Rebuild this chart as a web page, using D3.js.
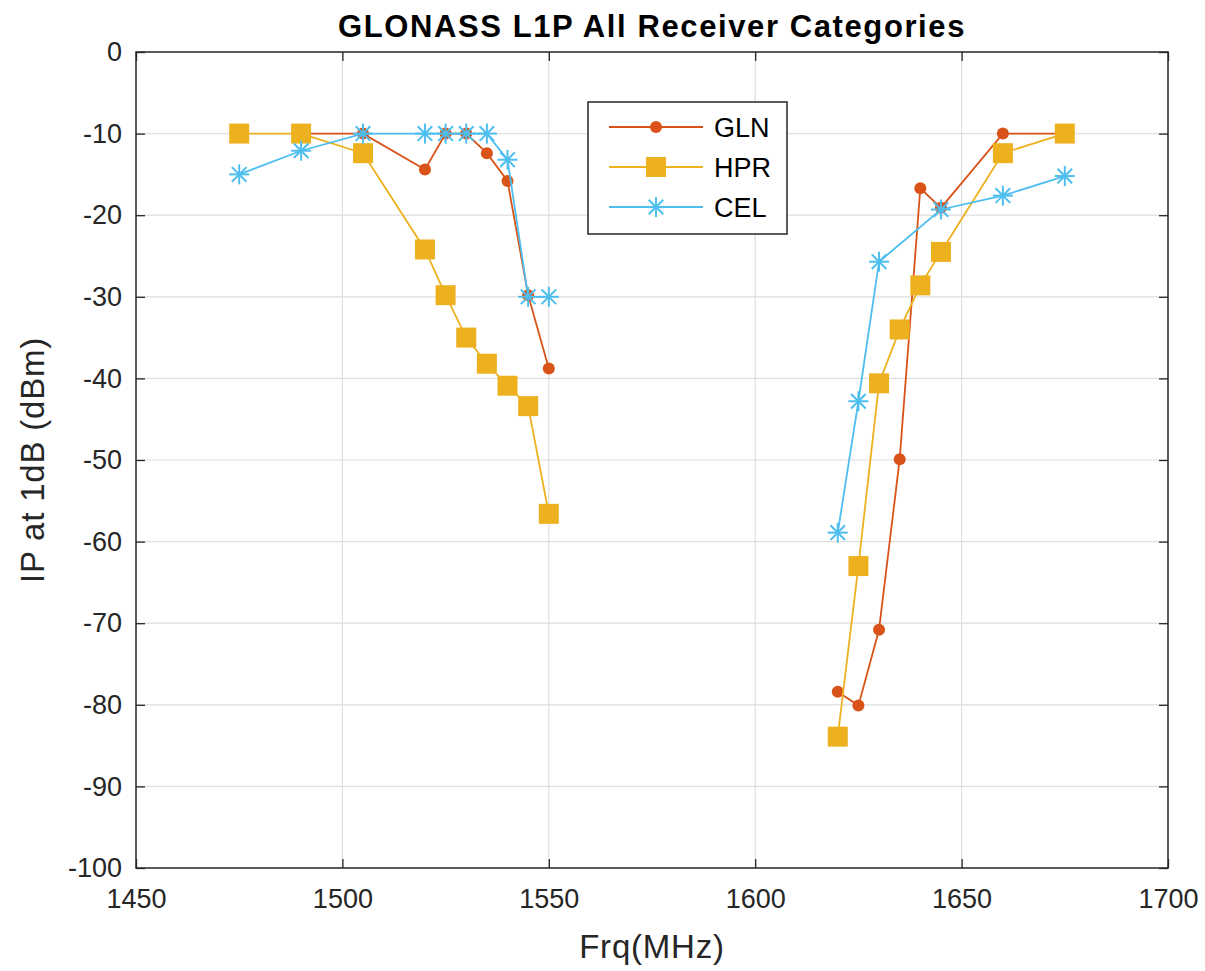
<!DOCTYPE html>
<html>
<head>
<meta charset="utf-8">
<script src="https://cdn.jsdelivr.net/npm/d3@7"></script>
<style>
  body { margin: 0; background: #fff; }
  text { font-family: "Liberation Sans", Arial, sans-serif; }
</style>
</head>
<body>
<div id="chart"></div>
<script>
// series values
const glnFreq = [1490, 1505, 1520, 1525, 1530, 1535, 1540, 1545, 1550, null, 1620, 1625, 1630, 1635, 1640, 1645, 1660, 1675];
const glnIP   = [-10, -10, -14.4, -10, -10, -12.4, -15.8, -29.8, -38.8, null, -78.4, -80.1, -70.8, -49.9, -16.7, -19.1, -10, -10];

const hprFreq = [1475, 1490, 1505, 1520, 1525, 1530, 1535, 1540, 1545, 1550, null, 1620, 1625, 1630, 1635, 1640, 1645, 1660, 1675];
const hprIP   = [-10, -10, -12.4, -24.2, -29.8, -35.0, -38.2, -40.9, -43.4, -56.6, null, -83.9, -63.0, -40.6, -34.0, -28.6, -24.5, -12.4, -10];

const celFreq = [1475, 1490, 1505, 1520, 1525, 1530, 1535, 1540, 1545, 1550, null, 1620, 1625, 1630, 1645, 1660, 1675];
const celIP   = [-15.0, -12.1, -10, -10, -10, -10, -10, -13.2, -30, -30, null, -58.9, -42.8, -25.7, -19.3, -17.6, -15.2];

const xTicks = [1450, 1500, 1550, 1600, 1650, 1700];
const yTicks = [0, -10, -20, -30, -40, -50, -60, -70, -80, -90, -100];

const seriesNames = ["GLN", "HPR", "CEL"];
const colors = ["#D95319", "#EDB120", "#4DBEEE"];

const W = 1205, H = 971;
const margin = { left: 136, right: 1205 - 1168, top: 52, bottom: 971 - 868 };

const svg = d3.select("#chart").append("svg")
	.attr("width", W)
	.attr("height", H);

const x = d3.scaleLinear().domain([1450, 1700]).range([margin.left, W - margin.right]);
const y = d3.scaleLinear().domain([-100, 0]).range([H - margin.bottom, margin.top]);

// grid
svg.append("g")
	.selectAll("line.gx")
	.data(xTicks.slice(1, -1))
	.enter().append("line")
	.attr("x1", d => x(d)).attr("x2", d => x(d))
	.attr("y1", y(0)).attr("y2", y(-100))
	.attr("stroke", "#dedede").attr("stroke-width", 1.2);
svg.append("g")
	.selectAll("line.gy")
	.data(yTicks.slice(1, -1))
	.enter().append("line")
	.attr("x1", x(1450)).attr("x2", x(1700))
	.attr("y1", d => y(d)).attr("y2", d => y(d))
	.attr("stroke", "#dedede").attr("stroke-width", 1.2);

// axes with inward ticks
const tk = 9;
const fmt = d => String(d);
function styleAxis(g) {
	g.select(".domain").remove();
	g.selectAll(".tick line").attr("stroke", "#262626").attr("stroke-width", 1.3);
	g.selectAll(".tick text").attr("fill", "#262626").style("font-size", "27px")
		.style("font-family", "'Liberation Sans', Arial, sans-serif");
}
svg.append("g")
	.attr("transform", `translate(0,${y(-100)})`)
	.call(d3.axisBottom(x).tickValues(xTicks).tickFormat(fmt).tickSizeInner(-tk).tickSizeOuter(0).tickPadding(21))
	.call(styleAxis);
svg.append("g")
	.attr("transform", `translate(0,${y(0)})`)
	.call(d3.axisTop(x).tickValues(xTicks).tickSizeInner(-tk).tickSizeOuter(0).tickFormat(""))
	.call(styleAxis);
svg.append("g")
	.attr("transform", `translate(${x(1450)},0)`)
	.call(d3.axisLeft(y).tickValues(yTicks).tickFormat(fmt).tickSizeInner(-tk).tickSizeOuter(0).tickPadding(14))
	.call(styleAxis);
svg.append("g")
	.attr("transform", `translate(${x(1700)},0)`)
	.call(d3.axisRight(y).tickValues(yTicks).tickSizeInner(-tk).tickSizeOuter(0).tickFormat(""))
	.call(styleAxis);

svg.append("rect")
	.attr("x", x(1450)).attr("y", y(0))
	.attr("width", x(1700) - x(1450)).attr("height", y(-100) - y(0))
	.attr("fill", "none").attr("stroke", "#262626").attr("stroke-width", 1.5);

// markers
function drawMarker(g, type, cx, cy, color) {
	if (type === 0) {
		g.append("circle").attr("cx", cx).attr("cy", cy).attr("r", 6).attr("fill", color);
	} else if (type === 1) {
		g.append("rect").attr("x", cx - 10).attr("y", cy - 10).attr("width", 20).attr("height", 20).attr("fill", color);
	} else {
		const r = 10, d = 7.3;
		[[-r, 0, r, 0], [0, -r, 0, r], [-d, -d, d, d], [-d, d, d, -d]].forEach(s => {
			g.append("line")
				.attr("x1", cx + s[0]).attr("y1", cy + s[1])
				.attr("x2", cx + s[2]).attr("y2", cy + s[3])
				.attr("stroke", color).attr("stroke-width", 2);
		});
	}
}

const allSeries = [[glnFreq, glnIP], [hprFreq, hprIP], [celFreq, celIP]];
const line = d3.line()
	.defined(d => d[0] !== null)
	.x(d => x(d[0]))
	.y(d => y(d[1]));

allSeries.forEach((s, i) => {
	const pts = s[0].map((f, j) => [f, s[1][j]]);
	const g = svg.append("g");
	g.append("path")
		.datum(pts)
		.attr("d", line)
		.attr("fill", "none")
		.attr("stroke", colors[i])
		.attr("stroke-width", 1.8);
	pts.filter(p => p[0] !== null).forEach(p => drawMarker(g, i, x(p[0]), y(p[1]), colors[i]));
});

// legend
const lg = svg.append("g");
lg.append("rect")
	.attr("x", 588).attr("y", 102).attr("width", 199).attr("height", 132)
	.attr("fill", "#fff").attr("stroke", "#262626").attr("stroke-width", 1.5);
seriesNames.forEach((name, i) => {
	const ly = 127 + i * 40;
	lg.append("line").attr("x1", 609).attr("x2", 703).attr("y1", ly).attr("y2", ly)
		.attr("stroke", colors[i]).attr("stroke-width", 1.8);
	drawMarker(lg, i, 656, ly, colors[i]);
	lg.append("text").attr("x", 714).attr("y", ly + 10).text(name)
		.style("font-size", "27px").attr("fill", "#000");
});

// labels
svg.append("text")
	.attr("x", (x(1450) + x(1700)) / 2).attr("y", 37)
	.attr("text-anchor", "middle")
	.style("font-size", "31px").style("font-weight", "bold")
	.style("letter-spacing", "1.6px")
	.attr("fill", "#000")
	.text("GLONASS L1P All Receiver Categories");

svg.append("text")
	.attr("x", (x(1450) + x(1700)) / 2).attr("y", 958)
	.attr("text-anchor", "middle")
	.style("font-size", "33px").style("letter-spacing", "0.8px").attr("fill", "#262626")
	.text("Frq(MHz)");

svg.append("text")
	.attr("transform", `translate(44,${(y(0) + y(-100)) / 2}) rotate(-90)`)
	.attr("text-anchor", "middle")
	.style("font-size", "33px").style("letter-spacing", "0.8px").attr("fill", "#262626")
	.text("IP at 1dB (dBm)");
</script>
</body>
</html>
